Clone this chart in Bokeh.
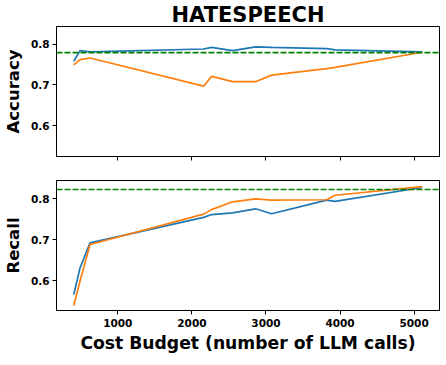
from bokeh.plotting import figure
from bokeh.layouts import column
from bokeh.models import Range1d, FixedTicker, Span
from bokeh.embed import file_html
from bokeh.resources import INLINE

budget = [405, 490, 625, 2158, 2266, 2550, 2860, 3077, 3820, 3932, 5110]
acc_blue = [0.758, 0.784, 0.781, 0.788, 0.792, 0.784, 0.793, 0.792, 0.789, 0.786, 0.781]
acc_orange = [0.749, 0.762, 0.766, 0.697, 0.721, 0.708, 0.708, 0.724, 0.740, 0.743, 0.780]
rec_blue = [0.567, 0.632, 0.693, 0.755, 0.762, 0.766, 0.776, 0.764, 0.797, 0.794, 0.828]
rec_orange = [0.540, 0.600, 0.689, 0.763, 0.774, 0.793, 0.800, 0.797, 0.798, 0.809, 0.830]
acc_baseline = 0.779
rec_baseline = 0.823
x_ticks = [1000, 2000, 3000, 4000, 5000]
y_ticks = [0.6, 0.7, 0.8]

FONT = "DejaVu Sans"
BLUE = "#1f77b4"
ORANGE = "#ff7f0e"
GREEN = "#008000"


def style(p, ylabel, show_xlabels):
    p.outline_line_color = "black"
    p.outline_line_width = 1
    p.xgrid.visible = False
    p.ygrid.visible = False
    p.xaxis.ticker = FixedTicker(ticks=x_ticks)
    p.yaxis.ticker = FixedTicker(ticks=y_ticks)
    for ax in (p.xaxis[0], p.yaxis[0]):
        ax.axis_line_color = "black"
        ax.major_tick_line_color = "black"
        ax.major_tick_in = 0
        ax.major_tick_out = 4
        ax.minor_tick_line_color = None
        ax.major_label_text_font = FONT
        ax.major_label_text_font_style = "bold"
        ax.major_label_text_font_size = "10.5px"
        ax.major_label_text_color = "black"
        ax.major_label_standoff = 3
        ax.axis_label_text_font = FONT
        ax.axis_label_text_font_style = "bold"
        ax.axis_label_text_color = "black"
    p.yaxis.axis_label = ylabel
    p.yaxis.axis_label_text_font_size = "16.5px"
    p.yaxis.axis_label_standoff = 5
    if not show_xlabels:
        p.xaxis.major_label_overrides = {t: "" for t in x_ticks}
        p.xaxis.major_label_standoff = 0


xr = Range1d(172, 5343)

top = figure(frame_width=383, frame_height=130, output_backend="svg", toolbar_location=None,
             x_range=xr, y_range=Range1d(0.525, 0.843),
             min_border_left=47, min_border_right=8, min_border_top=0, min_border_bottom=16)
top.title.text = "HATESPEECH"
top.title.align = "center"
top.title.text_font = FONT
top.title.text_font_style = "bold"
top.title.text_font_size = "21px"
top.title.text_color = "black"
top.title.standoff = 0
top.title.offset = 0
top.line(budget, acc_blue, line_color=BLUE, line_width=1.7)
top.line(budget, acc_orange, line_color=ORANGE, line_width=1.7)
top.add_layout(Span(location=acc_baseline, dimension="width", line_color=GREEN,
                    line_dash="6 2", line_width=1.6))
style(top, "Accuracy", False)

bot = figure(frame_width=383, frame_height=130, output_backend="svg", toolbar_location=None,
             x_range=xr, y_range=Range1d(0.528, 0.845),
             min_border_left=47, min_border_right=8, min_border_top=8, min_border_bottom=0)
bot.line(budget, rec_blue, line_color=BLUE, line_width=1.7)
bot.line(budget, rec_orange, line_color=ORANGE, line_width=1.7)
bot.add_layout(Span(location=rec_baseline, dimension="width", line_color=GREEN,
                    line_dash="6 2", line_width=1.6))
style(bot, "Recall", True)
bot.xaxis.major_label_standoff = 4
bot.xaxis.axis_label = "Cost Budget (number of LLM calls)"
bot.xaxis.axis_label_text_font_size = "17.2px"
bot.xaxis.axis_label_standoff = 3

layout = column(top, bot, spacing=0)
open("out.html", "w").write(file_html(layout, INLINE))
